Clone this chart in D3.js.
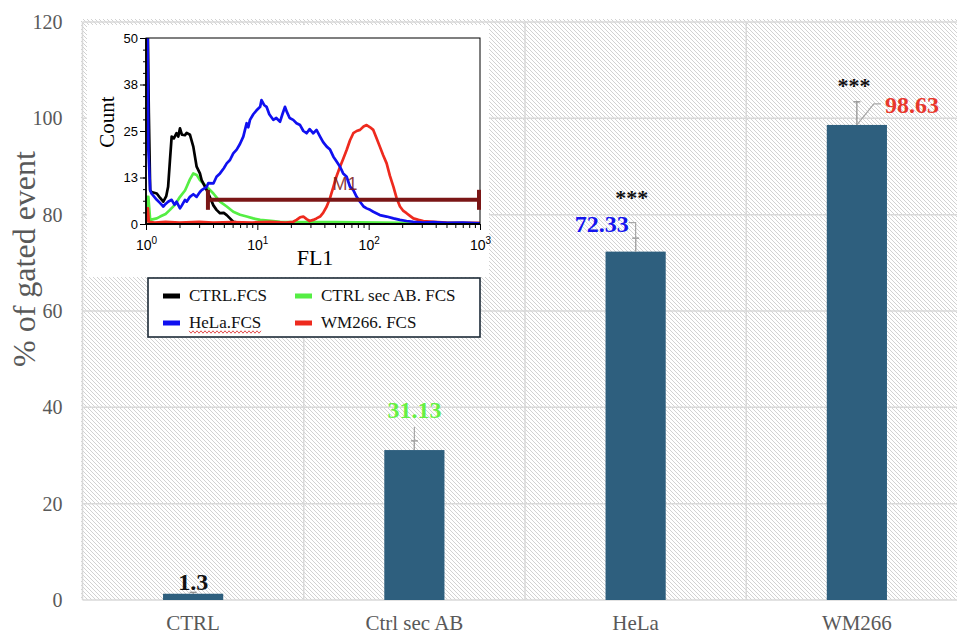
<!DOCTYPE html>
<html>
<head>
<meta charset="utf-8">
<script src="https://cdn.jsdelivr.net/npm/d3@7"></script>
<style>
  body { margin: 0; background: #fff; }
  svg { display: block; }
</style>
</head>
<body>
<svg id="chart" width="957" height="635"></svg>
<script>
// ---- Bar chart data ----
const categories = ["CTRL", "Ctrl sec AB", "HeLa", "WM266"];
const gatedPercent = [1.3, 31.13, 72.33, 98.63];
const errorPercent = [0.3, 1.9, 2.8, 4.8];
const valueLabelColors = ["#111111", "#66f044", "#1414ee", "#e8382c"];
const significance = ["", "", "***", "***"];
const yTicks = [0, 20, 40, 60, 80, 100, 120];

// ---- Inset histogram data: [FL1, count] ----
const ctrlFCS = [
  [1.0, 60], [1.03, 60], [1.06, 30], [1.09, 9.1], [1.12, 8.6], [1.25, 8.2], [1.34, 7.0],
  [1.43, 6.0], [1.52, 7.5], [1.58, 10.0], [1.64, 17.0], [1.70, 23.5], [1.78, 23.0],
  [1.88, 24.4], [1.95, 23.5], [2.02, 25.7], [2.1, 24.0], [2.24, 23.9], [2.32, 24.5],
  [2.48, 24.0], [2.66, 20.8], [2.85, 15.4], [3.05, 13.6], [3.16, 11.8], [3.51, 9.1],
  [3.63, 8.2], [4.03, 5.0], [4.3, 3.8], [4.62, 2.9], [5.0, 3.0], [5.31, 2.4], [5.68, 1.5],
  [6.08, 0.6], [6.98, 0.3], [8.0, 0.2], [10, 0.2]
];
const ctrlSecFCS = [
  [1.0, 0], [1.02, 7.3], [1.05, 7.3], [1.09, 1.1], [1.25, 1.5], [1.34, 2.0], [1.5, 2.7],
  [1.64, 3.8], [1.8, 5.0], [2.02, 7.3], [2.24, 9.0], [2.32, 10.0], [2.48, 12.0],
  [2.66, 13.6], [2.85, 13.2], [3.05, 11.8], [3.51, 10.0], [4.03, 8.2], [4.62, 6.0],
  [5.31, 4.7], [6.08, 3.3], [7.0, 2.5], [8.02, 2.0], [9.2, 1.5], [10.6, 1.1], [13.9, 0.8],
  [16.0, 0.6], [25, 0.5], [50, 0.5], [126, 0.4], [200, 0.3], [400, 0.3], [1000, 0.2]
];
const helaFCS = [
  [1.0, 60], [1.03, 60], [1.05, 20], [1.09, 9.1], [1.12, 8.2], [1.25, 6.5], [1.34, 5.6],
  [1.43, 4.7], [1.50, 5.4], [1.58, 6.0], [1.70, 6.5], [1.80, 5.2], [1.88, 6.0], [2.02, 4.2],
  [2.10, 5.0], [2.24, 6.5], [2.32, 6.0], [2.48, 7.3], [2.66, 8.0], [2.85, 7.3], [3.05, 8.6],
  [3.16, 9.1], [3.51, 10.0], [3.63, 11.0], [4.03, 10.9], [4.3, 12.7], [4.62, 13.6],
  [5.0, 15.0], [5.31, 16.3], [5.68, 17.2], [6.08, 19.0], [6.52, 20.0], [6.98, 21.5],
  [7.48, 23.5], [8.02, 27.1], [8.3, 26.0], [8.59, 28.0], [9.20, 29.5], [9.8, 30.5],
  [10.6, 31.5], [10.9, 33.3], [11.5, 32.0], [12.1, 31.5], [12.8, 29.5], [13.9, 28.0],
  [14.8, 28.5], [16.0, 27.5], [16.8, 29.5], [17.7, 31.5], [18.5, 30.0], [19.5, 28.5],
  [21.0, 28.0], [22.5, 27.1], [24.2, 26.6], [25.9, 25.0], [27.7, 24.4], [29.5, 25.5],
  [31.8, 24.4], [34, 25.3], [36.6, 23.5], [39, 22.0], [42.0, 20.8], [45, 20.0],
  [48.2, 18.1], [51, 17.0], [55.3, 15.4], [59, 13.6], [63.4, 12.7], [68, 10.0],
  [72.8, 9.1], [78, 7.3], [83.6, 6.0], [90, 4.7], [95.9, 4.2], [103, 3.8], [110, 3.3],
  [126, 2.4], [145, 2.0], [167, 1.5], [191, 1.1], [219, 0.8], [252, 0.6], [310, 0.4],
  [381, 0.5], [502, 0.3], [700, 0.4], [1000, 0.2]
];
const wm266FCS = [
  [1.0, 0], [1.01, 4.2], [1.04, 4.2], [1.06, 0.6], [1.2, 0.4], [1.5, 0.6], [2.0, 0.4],
  [3.0, 0.6], [4.0, 0.4], [6.0, 0.5], [9.0, 0.4], [13, 0.6], [18, 0.4], [21.0, 0.6],
  [22.5, 1.1], [24.2, 1.8], [25.9, 2.0], [27.7, 1.3], [29.5, 0.8], [31.8, 1.1], [34, 1.5],
  [36.6, 2.0], [39, 3.0], [42.0, 4.7], [45, 7.0], [48.2, 10.0], [51, 12.5], [55.3, 15.4],
  [59, 17.5], [63.4, 19.9], [68, 22.5], [72.8, 24.4], [78, 25.0], [83.6, 25.3], [90, 26.2],
  [95.9, 26.6], [103, 26.0], [110, 25.3], [118, 23.0], [126, 20.8], [135, 18.5],
  [145, 16.3], [155, 13.0], [167, 10.0], [178, 7.0], [191, 4.7], [205, 3.5], [219, 2.9],
  [235, 2.2], [252, 1.5], [280, 1.1], [310, 0.8], [381, 0.6], [502, 0.4], [1000, 0.3]
];
const countTicks = [0, 12.5, 25, 37.5, 50];
const countTickLabels = ["0", "13", "25", "38", "50"];
const fl1Decades = [1, 10, 100, 1000];
const gateM1 = { from: 3.6, to: 1000, level: 6.5, name: "M1" };

const histogramSeries = [
  { name: "CTRL sec AB. FCS", data: ctrlSecFCS, color: "#55ee44" },
  { name: "CTRL.FCS", data: ctrlFCS, color: "#000000" },
  { name: "WM266. FCS", data: wm266FCS, color: "#ee2a1e" },
  { name: "HeLa.FCS", data: helaFCS, color: "#1010f0" }
];
const legendOrder = ["CTRL.FCS", "CTRL sec AB. FCS", "HeLa.FCS", "WM266. FCS"];

// ---- Main chart ----
const svg = d3.select("#chart");
const serif = "'Liberation Serif', 'Times New Roman', serif";
const sans = "'Liberation Sans', Arial, sans-serif";

const plot = { left: 82.5, right: 967.5, top: 22, bottom: 600 };

const defs = svg.append("defs");
const hatch = defs.append("pattern")
  .attr("id", "hatch").attr("patternUnits", "userSpaceOnUse")
  .attr("width", 4).attr("height", 4);
hatch.append("rect").attr("width", 4).attr("height", 4).attr("fill", "#ffffff");
hatch.append("path")
  .attr("d", "M-1,-1 L5,5 M-1,3 L1,5 M3,-1 L5,1")
  .attr("stroke", "#d2d2d2").attr("stroke-width", 1);

svg.append("rect")
  .attr("x", plot.left - 1.5).attr("y", 19)
  .attr("width", 957 - plot.left + 2).attr("height", plot.bottom - 19)
  .attr("fill", "url(#hatch)");

const x = d3.scaleBand().domain(categories).range([plot.left, plot.right]).padding(0);
const y = d3.scaleLinear().domain([0, 120]).range([plot.bottom, plot.top]);
const barW = x.bandwidth() * 0.272;

// grid
const grid = svg.append("g").attr("stroke", "#d9d9d9").attr("stroke-width", 1.5);
grid.selectAll("line.h").data(yTicks).join("line")
  .attr("x1", plot.left).attr("x2", 957)
  .attr("y1", d => y(d)).attr("y2", d => y(d));
grid.selectAll("line.v").data(categories).join("line")
  .attr("x1", d => x(d)).attr("x2", d => x(d))
  .attr("y1", plot.top).attr("y2", plot.bottom);

// y axis labels
const yAxis = d3.axisLeft(y).tickValues(yTicks).tickSize(0).tickPadding(20);
svg.append("g").attr("transform", `translate(${plot.left},0)`).call(yAxis)
  .call(g => g.select(".domain").remove())
  .call(g => g.selectAll("text")
    .attr("font-family", serif).attr("font-size", 20).attr("fill", "#595959"));

// x axis labels
svg.append("g").selectAll("text").data(categories).join("text")
  .attr("x", d => x(d) + x.bandwidth() / 2)
  .attr("y", 630)
  .attr("text-anchor", "middle")
  .attr("font-family", serif).attr("font-size", 21).attr("fill", "#595959")
  .text(d => d);

svg.append("text")
  .attr("transform", "translate(35,259) rotate(-90)")
  .attr("text-anchor", "middle")
  .attr("font-family", serif).attr("font-size", 32).attr("fill", "#595959")
  .text("% of gated event");

// bars
const bars = categories.map((c, i) => ({
  cat: c, value: gatedPercent[i], err: errorPercent[i],
  color: valueLabelColors[i], stars: significance[i],
  cx: x(c) + x.bandwidth() / 2
}));

svg.append("g").selectAll("rect").data(bars).join("rect")
  .attr("x", d => d.cx - barW / 2)
  .attr("y", d => y(d.value))
  .attr("width", barW)
  .attr("height", d => y(0) - y(d.value))
  .attr("fill", "#2e5f7e");

// error bars
const eb = svg.append("g").attr("stroke", "#8c8c8c").attr("stroke-width", 1.2).attr("fill", "none");
bars.forEach(d => {
  const top = y(d.value + d.err);
  eb.append("line").attr("x1", d.cx).attr("x2", d.cx).attr("y1", y(d.value)).attr("y2", top);
  eb.append("line").attr("x1", d.cx - 3.5).attr("x2", d.cx + 3.5).attr("y1", top).attr("y2", top);
});

// value labels with leader lines (label placement per bar)
const labelLayout = [
  { anchor: "middle", dx: 0, dy: -4, leader: null },
  { anchor: "middle", dx: 0, dy: -32, leader: [[0, 0], [0, -23]] },
  { anchor: "end", dx: -7, dy: -20, leader: [[0, 0], [0, -29], [-7, -29]] },
  { anchor: "start", dx: 28, dy: -12, leader: [[0, 0], [17, -21], [24, -21]] }
];
const starLayout = [null, null, { dx: -4, dy: -33 }, { dx: -3, dy: -9 }];

const leaders = svg.append("g").attr("stroke", "#a6a6a6").attr("stroke-width", 1.2).attr("fill", "none");
bars.forEach((d, i) => {
  const L = labelLayout[i];
  const by = y(d.value);
  if (L.leader) {
    leaders.append("path")
      .attr("d", d3.line()(L.leader.map(p => [d.cx + p[0], by + p[1]])));
  }
  svg.append("text")
    .attr("x", d.cx + L.dx).attr("y", by + L.dy)
    .attr("text-anchor", L.anchor)
    .attr("font-family", serif).attr("font-weight", "bold").attr("font-size", 24)
    .attr("fill", d.color)
    .text(d.value);
  if (d.stars) {
    const S = starLayout[i];
    svg.append("text")
      .attr("x", d.cx + S.dx).attr("y", y(d.value + d.err) + S.dy)
      .attr("text-anchor", "middle")
      .attr("font-family", serif).attr("font-weight", "bold").attr("font-size", 22)
      .attr("fill", "#111")
      .text(d.stars);
  }
});

// ---- Inset: FL1 histogram overlay ----
const inset = svg.append("g");
inset.append("rect").attr("x", 87).attr("y", 25).attr("width", 402).attr("height", 252).attr("fill", "#fff");

const hx = d3.scaleLog().domain([1, 1000]).range([146, 480]);
const hy = d3.scaleLinear().domain([0, 50]).range([224, 38]);

defs.append("clipPath").attr("id", "histClip")
  .append("rect").attr("x", 146).attr("y", 38).attr("width", 334).attr("height", 186);

const line = d3.line().x(d => hx(d[0])).y(d => hy(d[1]));
inset.append("g").attr("clip-path", "url(#histClip)")
  .selectAll("path").data(histogramSeries).join("path")
  .attr("d", d => line(d.data))
  .attr("fill", "none").attr("stroke", d => d.color)
  .attr("stroke-width", 2.7).attr("stroke-linejoin", "round");

// frame
inset.append("rect").attr("x", 146).attr("y", 38).attr("width", 334).attr("height", 186)
  .attr("fill", "none").attr("stroke", "#000").attr("stroke-width", 1);
inset.append("line").attr("x1", 146).attr("x2", 146).attr("y1", 38).attr("y2", 224)
  .attr("stroke", "#000").attr("stroke-width", 1.8);
inset.append("line").attr("x1", 146).attr("x2", 480).attr("y1", 224).attr("y2", 224)
  .attr("stroke", "#000").attr("stroke-width", 1.8);

// count axis
const countMinor = d3.range(0, 50.01, 3.125);
inset.append("g").attr("transform", "translate(146,0)")
  .call(d3.axisLeft(hy).tickValues(countMinor).tickSize(3).tickFormat(""))
  .call(g => g.select(".domain").remove());
inset.append("g").attr("transform", "translate(146,0)")
  .call(d3.axisLeft(hy).tickValues(countTicks).tickSize(6).tickPadding(2)
    .tickFormat((d, i) => countTickLabels[i]))
  .call(g => g.select(".domain").remove())
  .call(g => g.selectAll("text").attr("font-family", sans).attr("font-size", 13).attr("fill", "#000"));

// FL1 axis (log)
const fl1Minor = [];
fl1Decades.slice(0, -1).forEach(dec => { for (let k = 2; k <= 9; k++) fl1Minor.push(dec * k); });
inset.append("g").attr("transform", "translate(0,224)")
  .call(d3.axisBottom(hx).tickValues(fl1Minor).tickSize(4).tickFormat(""))
  .call(g => g.select(".domain").remove());
const fl1Axis = inset.append("g").attr("transform", "translate(0,224)")
  .call(d3.axisBottom(hx).tickValues(fl1Decades).tickSize(6).tickFormat(""))
  .call(g => g.select(".domain").remove());
fl1Axis.selectAll(".tick").append("text")
  .attr("y", 26).attr("text-anchor", "middle")
  .attr("font-family", sans).attr("font-size", 14).attr("fill", "#000")
  .each(function(d) {
    const t = d3.select(this);
    t.append("tspan").text("10");
    t.append("tspan").attr("dy", -6).attr("font-size", 10).text(Math.round(Math.log10(d)));
  });

inset.append("text").attr("x", 315).attr("y", 265).attr("text-anchor", "middle")
  .attr("font-family", serif).attr("font-size", 22).attr("fill", "#000").text("FL1");
inset.append("text").attr("transform", "translate(114,122) rotate(-90)").attr("text-anchor", "middle")
  .attr("font-family", serif).attr("font-size", 21).attr("fill", "#000").text("Count");

// M1 gate marker
const gateColor = "#7a1616";
const gy = hy(gateM1.level);
const gate = inset.append("g").attr("stroke", gateColor).attr("stroke-width", 4);
gate.append("line").attr("x1", hx(gateM1.from)).attr("x2", hx(gateM1.to)).attr("y1", gy).attr("y2", gy);
gate.append("line").attr("x1", hx(gateM1.from)).attr("x2", hx(gateM1.from)).attr("y1", gy - 10).attr("y2", gy + 10);
gate.append("line").attr("x1", hx(gateM1.to) - 1).attr("x2", hx(gateM1.to) - 1).attr("y1", gy - 10).attr("y2", gy + 10);
inset.append("text").attr("x", 345).attr("y", gy - 10).attr("text-anchor", "middle")
  .attr("font-family", sans).attr("font-size", 18).attr("fill", gateColor).attr("fill-opacity", 0.85)
  .text(gateM1.name);

// legend
const lg = svg.append("g");
lg.append("rect").attr("x", 148).attr("y", 278).attr("width", 332).attr("height", 59)
  .attr("fill", "#fff").attr("stroke", "#1c2a36").attr("stroke-width", 1.6);
legendOrder.forEach((name, i) => {
  const s = histogramSeries.find(h => h.name === name);
  const col = i % 2, row = Math.floor(i / 2);
  const lx = 163 + col * 132, ly = 296 + row * 27;
  lg.append("rect").attr("x", lx).attr("y", ly - 2.5).attr("width", 17).attr("height", 5).attr("fill", s.color);
  const t = lg.append("text").attr("x", lx + 26).attr("y", ly + 5)
    .attr("font-family", serif).attr("font-size", 17).attr("fill", "#111").text(name);
  if (name === "HeLa.FCS") {
    const w = t.node().getComputedTextLength();
    const pts = d3.range(0, Math.floor(w / 2) + 1).map(k => [lx + 26 + k * 2, ly + 9 + (k % 2 ? 1.2 : -1.2)]);
    lg.append("path").attr("d", d3.line()(pts)).attr("fill", "none")
      .attr("stroke", "#e03a3a").attr("stroke-width", 0.9);
  }
});
</script>
</body>
</html>
